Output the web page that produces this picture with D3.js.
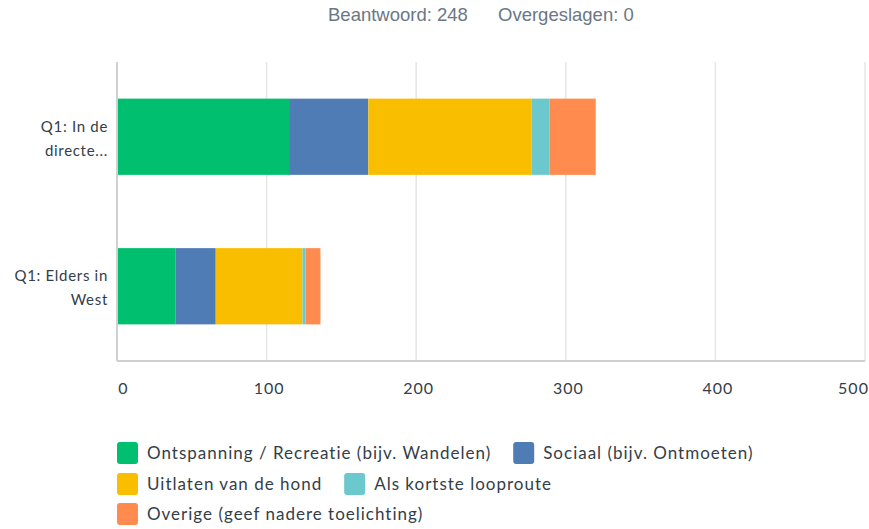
<!DOCTYPE html>
<html>
<head>
<meta charset="utf-8">
<script src="https://cdn.jsdelivr.net/npm/d3@7"></script>
<style>
  body { margin: 0; background: #fff; }
  svg { display: block; }
</style>
</head>
<body>
<div id="chart"></div>
<script>
// answers per question, stacked by reason
const questions = ["Q1: In de directe...", "Q1: Elders in West"];
const questionLines = [["Q1: In de", "directe..."], ["Q1: Elders in", "West"]];
const reasons = [
  "Ontspanning / Recreatie (bijv. Wandelen)",
  "Sociaal (bijv. Ontmoeten)",
  "Uitlaten van de hond",
  "Als kortste looproute",
  "Overige (geef nadere toelichting)"
];
const colors = ["#00bf6f", "#507cb6", "#f9be00", "#6bc8cd", "#ff8b4f"];
const recreatie = [115, 39];
const sociaal = [53, 27];
const hond = [109, 58];
const looproute = [12, 2];
const overige = [31, 10];
const xTicks = [0, 100, 200, 300, 400, 500];
const answered = 248, skipped = 0;

const width = 869, height = 529;
const margin = { top: 62, right: 4, bottom: 168, left: 117 };

const rows = questions.map((q, i) => ({
  question: q,
  [reasons[0]]: recreatie[i],
  [reasons[1]]: sociaal[i],
  [reasons[2]]: hond[i],
  [reasons[3]]: looproute[i],
  [reasons[4]]: overige[i]
}));

const svg = d3.select("#chart").append("svg")
  .attr("width", width).attr("height", height);

const font = "Lato, 'Open Sans', sans-serif";
const textColor = "#333e48";
const headFont = "'Liberation Sans Narrow', 'Liberation Sans', sans-serif";

// header
svg.append("text").attr("x", 328).attr("y", 21)
  .attr("font-family", headFont)
  .attr("font-size", 18.5).attr("fill", "#6b7783")
  .text(`Beantwoord: ${answered}`);
svg.append("text").attr("x", 498).attr("y", 21)
  .attr("font-family", headFont)
  .attr("font-size", 18.5).attr("fill", "#6b7783")
  .text(`Overgeslagen: ${skipped}`);

const x = d3.scaleLinear().domain([0, 500]).range([margin.left, width - margin.right]);
const y = d3.scaleBand().domain(questions)
  .range([margin.top, height - margin.bottom]).paddingInner(0.49).paddingOuter(0.245);

// gridlines
svg.append("g").selectAll("line")
  .data(xTicks.slice(1))
  .join("line")
  .attr("x1", d => x(d)).attr("x2", d => x(d))
  .attr("y1", margin.top).attr("y2", height - margin.bottom)
  .attr("stroke", "#e6e6e6").attr("stroke-width", 1.5);

const series = d3.stack().keys(reasons)(rows);

svg.append("g").selectAll("g")
  .data(series)
  .join("g")
  .attr("fill", (d, i) => colors[i])
  .selectAll("rect")
  .data(d => d)
  .join("rect")
  .attr("x", d => x(d[0]))
  .attr("y", d => y(d.data.question))
  .attr("width", d => x(d[1]) - x(d[0]))
  .attr("height", y.bandwidth());

// axes lines
svg.append("line")
  .attr("x1", margin.left).attr("x2", width - margin.right)
  .attr("y1", height - margin.bottom).attr("y2", height - margin.bottom)
  .attr("stroke", "#d0d0d0").attr("stroke-width", 2);
svg.append("line")
  .attr("x1", margin.left).attr("x2", margin.left)
  .attr("y1", margin.top).attr("y2", height - margin.bottom)
  .attr("stroke", "#d0d0d0").attr("stroke-width", 2);

// x axis labels
const xAxis = svg.append("g")
  .attr("transform", `translate(0,${height - margin.bottom})`)
  .call(d3.axisBottom(x).tickValues(xTicks).tickSize(0).tickPadding(22));
xAxis.select(".domain").remove();
xAxis.selectAll("text")
  .attr("font-family", font).attr("font-size", 16).attr("fill", textColor)
  .attr("letter-spacing", 1)
  .attr("dx", d => d === 0 ? 6 : d === 500 ? -12 : 2);

// y labels, two lines each
const yLab = svg.append("g").selectAll("text")
  .data(questions)
  .join("text")
  .attr("x", margin.left - 9)
  .attr("y", d => y(d) + y.bandwidth() / 2)
  .attr("text-anchor", "end")
  .attr("letter-spacing", 0.7)
  .attr("font-family", font).attr("font-size", 15).attr("fill", textColor);
yLab.selectAll("tspan")
  .data((d, i) => questionLines[i])
  .join("tspan")
  .attr("x", margin.left - 9)
  .attr("dy", (d, j) => j === 0 ? "-0.35em" : "1.6em")
  .text(d => d);

// legend
const legendRows = [[0, 1], [2, 3], [4]];
const legendY = [453, 484, 514];
legendRows.forEach((items, r) => {
  let cx = margin.left;
  items.forEach(k => {
    const g = svg.append("g");
    g.append("rect")
      .attr("x", cx).attr("y", legendY[r] - 11)
      .attr("width", 21).attr("height", 22).attr("rx", 3)
      .attr("fill", colors[k]);
    const t = g.append("text")
      .attr("x", cx + 30).attr("y", legendY[r])
      .attr("dy", "0.35em")
      .attr("letter-spacing", 1)
      .attr("font-family", font).attr("font-size", 17).attr("fill", textColor)
      .text(reasons[k]);
    cx += 30 + t.node().getComputedTextLength() + 22;
  });
});
</script>
</body>
</html>
